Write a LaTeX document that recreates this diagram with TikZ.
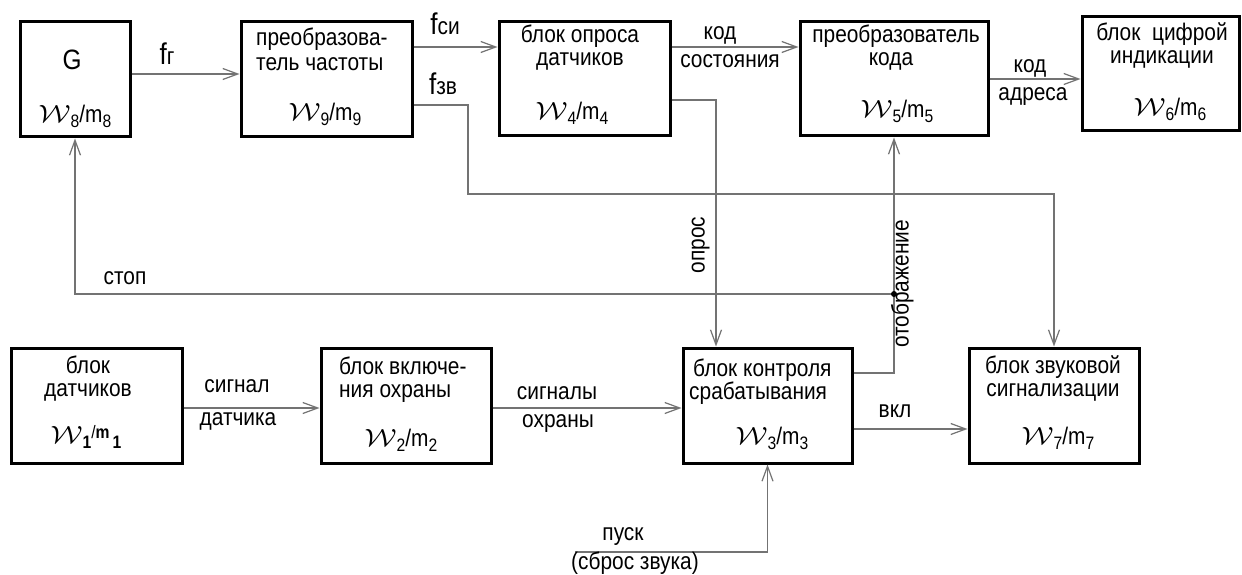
\documentclass[tikz,border=0pt]{standalone}
\usepackage{fontspec}
\setmainfont{Liberation Sans}[FakeStretch=0.87]
\usetikzlibrary{arrows.meta}
\newcommand{\Wsym}{\scalebox{1.2}[1]{\ensuremath{\mathcal{W}}}}
\newcommand{\sbx}[1]{\raisebox{-0.35ex}{\fontsize{18}{18}\selectfont #1}}
\newcommand{\wmm}[1]{\Wsym\sbx{#1}/m\sbx{#1}}
\newcommand{\fbig}[1]{{\fontsize{30}{30}\selectfont f}#1}
\begin{document}
\begin{tikzpicture}[x=1pt,y=-1pt,
  every node/.style={font=\fontsize{24}{26}\selectfont, inner sep=0pt},
  blk/.style={draw, line width=3pt},
  txt/.style={anchor=mid},
  ml/.style={align=center, anchor=center, font=\fontsize{24}{#1}\selectfont},
  mll/.style={align=left, anchor=west, font=\fontsize{24}{#1}\selectfont},
  conn/.style={draw=black!55, line width=1.2pt, -{Straight Barb[length=15pt,width=11pt]}}]
\fill[white] (0,0) rectangle (1242,575);
\useasboundingbox (0,0) rectangle (1242,575);

% blocks
\node[blk, minimum width=110, minimum height=115] (G)  at (75,79.5) {};
\node[blk, minimum width=171, minimum height=115] (P9) at (326.5,79.5) {};
\node[blk, minimum width=171, minimum height=114] (P4) at (584.5,79) {};
\node[blk, minimum width=188, minimum height=114] (P5) at (894,79) {};
\node[blk, minimum width=157, minimum height=114] (P6) at (1160.5,74) {};
\node[blk, minimum width=171, minimum height=115] (P1) at (96.5,405.5) {};
\node[blk, minimum width=170, minimum height=115] (P2) at (406,405.5) {};
\node[blk, minimum width=169, minimum height=115] (P3) at (767.5,405.5) {};
\node[blk, minimum width=170, minimum height=115] (P7) at (1054,405.5) {};

% block texts
\node[txt, font=\fontsize{28}{28}\selectfont] (tG) at (72,67) {G};
\node[txt] (wG) at (75,120) {\wmm{8}};
\node[mll=25] (t9) at (256,49.5) {преобразова-\\тель частоты};
\node[txt] (w9) at (325,118) {\wmm{9}};
\node[ml=23] (t4) at (580,47.5) {блок опроса\\датчиков};
\node[txt] (w4) at (572,117) {\wmm{4}};
\node[ml=23] (t5) at (896,47.5) {преобразователь\\\hspace*{-10pt}кода};
\node[txt] (w5) at (897,115) {\wmm{5}};
\node[ml=23] (t6) at (1162,45.5) {блок\ \ цифрой\\индикации};
\node[txt] (w6) at (1170,113) {\wmm{6}};
\node[ml=23] (t1) at (88,378.5) {блок\\датчиков};
\node[txt] (w1) at (86,441) {\Wsym\sbx{\bfseries 1}\raisebox{0.4ex}{\fontsize{18}{18}\selectfont/\bfseries m}\sbx{\bfseries\,1}};
\node[mll=23] (t2) at (339,379.5) {блок включе-\\ния охраны};
\node[txt] (w2) at (401,444) {\wmm{2}};
\node[mll=23] (t3) at (689,381.5) {\hspace*{4pt}блок контроля\\срабатывания};
\node[txt] (w3) at (772,442) {\wmm{3}};
\node[ml=23] (t7) at (1053,378.5) {блок звуковой\\сигнализации};
\node[txt] (w7) at (1058,442) {\wmm{7}};

% helper coordinates
\coordinate (zv) at (468,194);
\coordinate (dot) at (894,294);
\coordinate (pusk) at (575,552);

% connectors
\draw[conn] ([yshift=5.5pt]G.east) -- ([yshift=5.5pt]P9.west);
\draw[conn] ([yshift=32.5pt]P9.east) -- ([yshift=32pt]P4.west);
\draw[conn] ([yshift=-25.5pt]P9.east) -| (zv) -| (P7.north);
\draw[conn] ([yshift=32pt]P4.east) -- ([yshift=32pt]P5.west);
\draw[conn] (P5.east) -- ([yshift=-5pt]P6.west);
\draw[conn] ([yshift=-21pt]P4.east) -| ([xshift=-51.5pt]P3.north);
\draw[conn] ([yshift=32.5pt]P3.east) -| (P5.south);
\draw[conn] (dot) -| (G.south);
\fill (dot) circle[radius=3pt];
\draw[conn] ([yshift=-2.5pt]P1.east) -- ([yshift=-2.5pt]P2.west);
\draw[conn] ([yshift=-2.5pt]P2.east) -- ([yshift=-2.5pt]P3.west);
\draw[conn] ([yshift=-23.5pt]P3.east) -- ([yshift=-23.5pt]P7.west);
\draw[conn] (pusk) -| (P3.south);

% connector labels
\node[txt] (lfg) at (167,62) {\fbig{г}};
\node[txt] (lfsi) at (445,32) {\fbig{си}};
\node[txt] (lfzv) at (443,92) {\fbig{зв}};
\node[txt] (lk1) at (720,37) {код};
\node[txt] (ls1) at (730,65) {состояния};
\node[txt] (lk2) at (1030,70) {код};
\node[txt] (la2) at (1033,98) {адреса};
\node[txt] (lstop) at (125,282) {стоп};
\node[txt] (lsg1) at (237,390) {сигнал};
\node[txt] (lsg2) at (238,423) {датчика};
\node[txt] (lso1) at (557,397) {сигналы};
\node[txt] (lso2) at (558,425) {охраны};
\node[txt] (lvkl) at (895,415) {вкл};
\node[txt] (lpusk) at (623,538) {пуск};
\node[txt] (lsbr) at (635,567) {(сброс звука)};
\node[txt, rotate=90] (lopr) at (702,245) {опрос};
\node[txt, rotate=90] (lotb) at (906,284) {отображение};
\end{tikzpicture}
\end{document}
